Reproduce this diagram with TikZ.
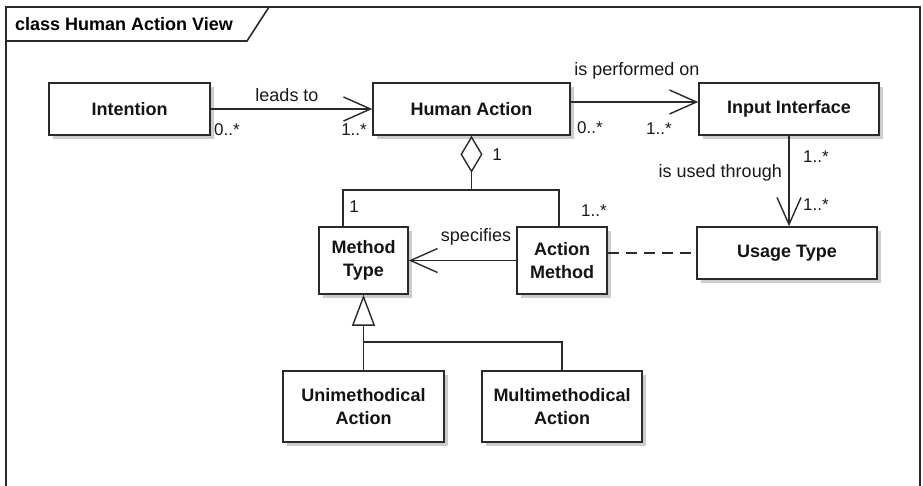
\documentclass[tikz,border=0pt]{standalone}
\usepackage{fontspec}
\setmainfont{Liberation Sans}
\usetikzlibrary{arrows.meta,shadows}
\definecolor{ln}{HTML}{2A2A2A}
\begin{document}
\begin{tikzpicture}[x=1pt,y=-1pt,
  box/.style={draw=ln, line width=1.6pt, fill=white, text=black!92,
    font=\fontsize{18}{23}\selectfont\bfseries, align=center, inner sep=0pt,
    drop shadow={shadow xshift=4pt,shadow yshift=-4pt,fill=black!20,opacity=1}},
  lbl/.style={font=\fontsize{18}{22}\selectfont, text=black!90, inner sep=0pt},
  mult/.style={font=\fontsize{17}{20}\selectfont, text=black!90, inner sep=0pt},
  conn/.style={draw=ln, line width=1.4pt},
  frame/.style={draw=ln, line width=1.6pt},
  openarr/.style={-{Straight Barb[length=27pt,width=24pt]}}]
\useasboundingbox (0,0) rectangle (923,485);
% frame
\draw[frame] (6,486) -- (6,7) -- (920,7) -- (920,486);
\draw[frame] (6,41) -- (247,41) -- (269,7);
\node[font=\fontsize{18}{22}\selectfont\bfseries, anchor=west, inner sep=0pt] (title) at (15,24) {class Human Action View};
% boxes
\node[box, minimum width=161pt, minimum height=52pt] (intention) at (129.5,109) {Intention};
\node[box, minimum width=197pt, minimum height=52pt] (human) at (471.5,109) {Human Action};
\node[box, minimum width=180pt, minimum height=52pt] (input) at (789,109) {Input Interface};
\node[box, minimum width=180pt, minimum height=52pt] (usage) at (787,253) {Usage Type};
\node[box, minimum width=90pt, minimum height=67pt] (actionm) at (562,260.5) {Action\\Method};
\node[box, minimum width=89pt, minimum height=67pt] (methodt) at (363.5,260.5) {Method\\Type};
\node[box, minimum width=161pt, minimum height=71pt] (unim) at (363.5,406.5) {Unimethodical\\Action};
\node[box, minimum width=160pt, minimum height=71pt] (multim) at (562,406.5) {Multimethodical\\Action};
% associations
\draw[conn, openarr] (intention.east) -- (human.west);
\node[lbl] (l1) at (287,95) {leads to};
\node[mult, anchor=west] (m1) at (214,130) {0..*};
\node[mult, anchor=east] (m2) at (367,130) {1..*};

\draw[conn, openarr] ([yshift=7pt]human.east) -- ([yshift=7pt]input.west);
\node[lbl] (l2) at (637,71) {is performed on};
\node[mult, anchor=west] (m3) at (577,128) {0..*};
\node[mult, anchor=west] (m4) at (646,129) {1..*};

\draw[conn, openarr] (input.south) -- (input.south |- usage.north);
\node[lbl, anchor=east] (l3) at (782,173) {is used through};
\node[mult, anchor=west] (m5) at (803,157) {1..*};
\node[mult, anchor=west] (m6) at (803,205) {1..*};

% aggregation
\coordinate (aggj) at (471.5,190);
\draw[conn, {Diamond[length=37pt,width=22pt,fill=white]}-] (human.south) -- (aggj);
\draw[conn] (aggj) -| ([xshift=-20.5pt]methodt.north);
\draw[conn] (aggj) -| ([xshift=-3pt]actionm.north);
\node[mult] (m7) at (497,155) {1};
\node[mult] (m8) at (354,207) {1};
\node[mult, anchor=west] (m9) at (581,211) {1..*};

% specifies
\draw[conn, openarr] (actionm.west) -- (methodt.east);
\node[lbl] (l4) at (476,237) {specifies};

% dashed
\draw[conn, dash pattern=on 11pt off 7pt] (actionm.east |- usage.west) -- (usage.west);

% generalization
\coordinate (genj) at (363.5,342);
\draw[conn, -{Triangle[length=31pt,width=23pt,fill=white]}] (genj) -- (methodt.south);
\draw[conn] (unim.north) -- (genj) -| (multim.north);
\end{tikzpicture}
\end{document}
